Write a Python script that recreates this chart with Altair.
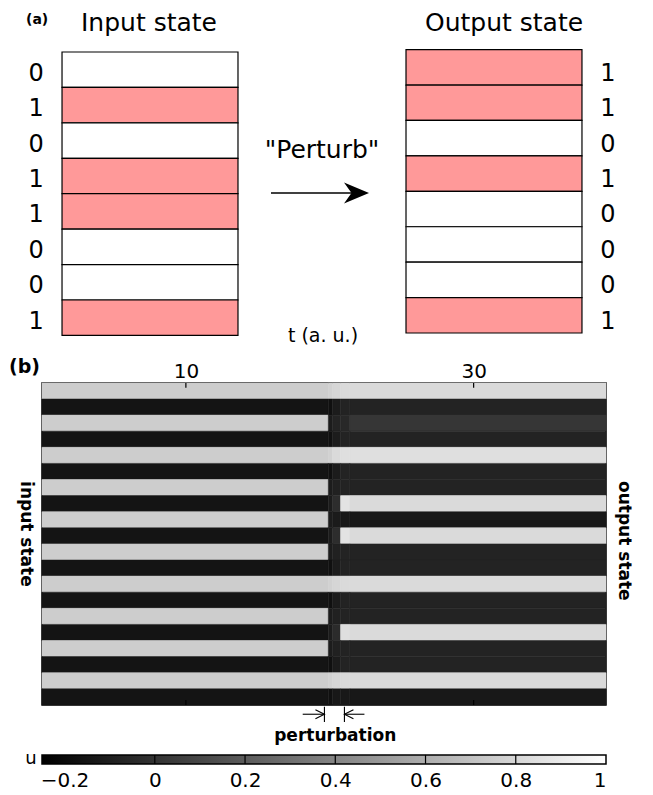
import altair as alt
import pandas as pd

FONT = "DejaVu Sans"

# ------------------------------------------------------------------ data
input_bits = [0, 1, 0, 1, 1, 0, 0, 1]
output_bits = [1, 1, 0, 1, 0, 0, 0, 1]

# time edges (t, a.u.) of the piecewise-constant segments of every heatmap row
t_edges = [0, 19.9, 20.2, 20.75, 21.4, 39.2]
# u in each segment, one list per row (top row first)
u_rows = [
    [0.78, 0.80, 0.82, 0.84, 0.84],
    [-0.17, -0.19, -0.12, -0.08, -0.08],
    [0.78, -0.12, -0.07, -0.05, 0.03],
    [-0.17, -0.19, -0.12, -0.08, -0.08],
    [0.78, 0.80, 0.84, 0.86, 0.86],
    [-0.17, -0.19, -0.12, -0.08, -0.08],
    [0.78, -0.12, -0.09, -0.08, -0.08],
    [-0.17, -0.12, -0.02, 0.88, 0.84],
    [0.78, -0.12, -0.13, -0.15, -0.15],
    [-0.17, -0.12, -0.02, 0.88, 0.84],
    [0.78, -0.12, -0.09, -0.08, -0.08],
    [-0.17, -0.19, -0.12, -0.08, -0.08],
    [0.78, 0.80, 0.82, 0.84, 0.84],
    [-0.17, -0.19, -0.12, -0.08, -0.08],
    [0.78, -0.12, -0.09, -0.08, -0.08],
    [-0.17, -0.12, -0.03, 0.86, 0.84],
    [0.78, -0.12, -0.09, -0.08, -0.08],
    [-0.17, -0.19, -0.12, -0.08, -0.08],
    [0.78, 0.80, 0.82, 0.84, 0.84],
    [-0.17, -0.19, -0.15, -0.15, -0.15],
]
time_ticks = [10, 30]
perturb_window = [19.63, 21.02]
u_domain = [-0.25, 1.0]
cbar_labels = [-0.2, 0, 0.2, 0.4, 0.6, 0.8, 1]
cbar_steps = [0, 0.2, 0.4, 0.6, 0.8]

# ------------------------------------------------------------------ layout
PW = 564
A_ROW = 35.425
B_ROW = 16.1
A_H = A_ROW * len(input_bits)
B_H = B_ROW * len(u_rows)
T_MAX = 39.2

xa = alt.Scale(domain=[0, 1])
ya = alt.Scale(domain=[0, len(input_bits)], reverse=True)
xb = alt.Scale(domain=[0, T_MAX])
yb = alt.Scale(domain=[0, len(u_rows)], reverse=True)
xc = alt.Scale(domain=u_domain)
ucol = alt.Scale(domain=u_domain, range=["#000000", "#ffffff"])


def txt(rows, sx, sy, **mk):
    df = pd.DataFrame(rows, columns=["x", "y", "text"])
    return alt.Chart(df).mark_text(font=FONT, color="black", **mk).encode(
        x=alt.X("x:Q", scale=sx, axis=None),
        y=alt.Y("y:Q", scale=sy, axis=None),
        text="text:N",
    )


# ---------------------------------------------------------------- panel (a)
def box_layer(bits, x0, x1, dy):
    df = pd.DataFrame({"row": list(range(len(bits))), "bit": bits})
    df["row1"] = df["row"] + 1
    df["x0"] = x0
    df["x1"] = x1
    return alt.Chart(df).mark_rect(
        stroke="black", strokeWidth=1.2, yOffset=dy, y2Offset=dy
    ).encode(
        x=alt.X("x0:Q", scale=xa, axis=None),
        x2=alt.X2("x1"),
        y=alt.Y("row:Q", scale=ya, axis=None),
        y2=alt.Y2("row1"),
        fill=alt.Fill("bit:N", scale=alt.Scale(domain=[0, 1], range=["#ffffff", "#ff9999"]), legend=None),
    )


def digit_layer(bits, x, dy):
    df = pd.DataFrame({"row": [i + 0.5 for i in range(len(bits))], "bit": [str(b) for b in bits]})
    df["x"] = x
    return alt.Chart(df).mark_text(
        font=FONT, fontSize=24, align="center", baseline="middle", yOffset=dy, color="black"
    ).encode(
        x=alt.X("x:Q", scale=xa, axis=None),
        y=alt.Y("row:Q", scale=ya, axis=None),
        text="bit:N",
    )


arrow_df = pd.DataFrame({"x0": [0.406], "x1": [0.557], "y": [3.98]})
shaft = alt.Chart(arrow_df).mark_rule(color="black", strokeWidth=1.4).encode(
    x=alt.X("x0:Q", scale=xa, axis=None), x2=alt.X2("x1"), y=alt.Y("y:Q", scale=ya, axis=None)
)
head_df = pd.DataFrame({"x": [0.5798], "y": [3.98]})
head = alt.Chart(head_df).mark_point(
    shape="M0,0L-1,-0.42L-0.7,0L-1,0.42Z", size=2500, filled=True, color="black", opacity=1, strokeWidth=0
).encode(x=alt.X("x:Q", scale=xa, axis=None), y=alt.Y("y:Q", scale=ya, axis=None))

# invisible spacer that pins the top edge of the figure
spacer = alt.Chart(pd.DataFrame({"x": [0.5], "y0": [-1.2195], "y1": [-1.1]})).mark_rule(
    color="white", opacity=0, strokeWidth=1
).encode(x=alt.X("x:Q", scale=xa, axis=None), y=alt.Y("y0:Q", scale=ya, axis=None), y2=alt.Y2("y1"))

panel_a = alt.layer(
    spacer,
    box_layer(input_bits, 0.0355, 0.3475, 0),
    box_layer(output_bits, 0.6454, 0.9574, -2.4),
    digit_layer(input_bits, -0.0106, 4),
    digit_layer(output_bits, 1.0035, 4),
    txt([(0.1897, -0.58, "Input state"), (0.8192, -0.58, "Output state")], xa, ya,
        fontSize=25, align="center", baseline="alphabetic"),
    txt([(-0.0284, -0.79, "(a)")], xa, ya, fontSize=14, fontWeight="bold", align="left", baseline="alphabetic"),
    txt([(0.4965, 3.0, '"Perturb"')], xa, ya, fontSize=25, align="center", baseline="alphabetic"),
    txt([(0.4982, 8.195, "t (a. u.)")], xa, ya, fontSize=19, align="center", baseline="alphabetic"),
    shaft,
    head,
).properties(width=PW, height=A_H)

# ---------------------------------------------------------------- panel (b)
recs = []
for r, vals in enumerate(u_rows):
    for k, v in enumerate(vals):
        recs.append({"row": r, "row1": r + 1, "t0": t_edges[k], "t1": t_edges[k + 1], "u": v})
cells = pd.DataFrame(recs)

heat = alt.Chart(cells).mark_rect(strokeWidth=0.5).encode(
    x=alt.X("t0:Q", scale=xb, axis=alt.Axis(
        orient="top", values=time_ticks, ticks=False, tickSize=0, domain=False, grid=False,
        labelFontSize=20, labelPadding=1, labelFont=FONT, labelColor="black", title=None, format="d")),
    x2=alt.X2("t1"),
    y=alt.Y("row:Q", scale=yb, axis=None),
    y2=alt.Y2("row1"),
    color=alt.Color("u:Q", scale=ucol, legend=None),
    stroke=alt.Stroke("u:Q", scale=ucol, legend=None),
)

tick_recs = []
for t in time_ticks:
    tick_recs.append({"t": t, "y0": 0, "y1": 0.3})
    tick_recs.append({"t": t, "y0": len(u_rows) - 0.3, "y1": len(u_rows)})
ticks = alt.Chart(pd.DataFrame(tick_recs)).mark_rule(color="black", strokeWidth=1.2).encode(
    x=alt.X("t:Q", scale=xb, axis=None), y=alt.Y("y0:Q", scale=yb, axis=None), y2=alt.Y2("y1")
)

pw_df = pd.DataFrame({"t": perturb_window, "y0": [20.12, 20.12], "y1": [21.06, 21.06]})
pw_rules = alt.Chart(pw_df).mark_rule(color="black", strokeWidth=1.1).encode(
    x=alt.X("t:Q", scale=xb, axis=None), y=alt.Y("y0:Q", scale=yb, axis=None), y2=alt.Y2("y1")
)
sh_df = pd.DataFrame({"t0": [18.12, 22.41], "t1": perturb_window, "y": [20.58, 20.58]})
pw_shafts = alt.Chart(sh_df).mark_rule(color="black", strokeWidth=1.1).encode(
    x=alt.X("t0:Q", scale=xb, axis=None), x2=alt.X2("t1"), y=alt.Y("y:Q", scale=yb, axis=None)
)
hd_df = pd.DataFrame({"t": perturb_window, "y": [20.58, 20.58], "ang": [0, 180]})
pw_heads = alt.Chart(hd_df).mark_point(
    shape="M-1,-0.5L0,0L-1,0.5", size=324, filled=False, color="black", strokeWidth=1.1, opacity=1
).encode(
    x=alt.X("t:Q", scale=xb, axis=None), y=alt.Y("y:Q", scale=yb, axis=None),
    angle=alt.Angle("ang:Q", scale=None),
)

# colour bar (same u scale as the heatmap)
CB_Y0, CB_Y1 = 23.106, 23.665
cb_df = pd.DataFrame({"u0": [u_domain[0]], "u1": [u_domain[1]], "y0": [CB_Y0], "y1": [CB_Y1]})
grad = alt.Gradient(
    gradient="linear",
    stops=[alt.GradientStop(color="#000000", offset=0), alt.GradientStop(color="#ffffff", offset=1)],
    x1=0, x2=1, y1=0, y2=0,
)
cbar = alt.Chart(cb_df).mark_rect(fill=grad, stroke="black", strokeWidth=1.5).encode(
    x=alt.X("u0:Q", scale=xc, axis=alt.Axis(
        orient="bottom", values=cbar_labels, format="~g", ticks=False, tickSize=0, domain=False, grid=False,
        labelFontSize=20, labelPadding=4, offset=62, labelFont=FONT, labelColor="black", title=None)),
    x2=alt.X2("u1"),
    y=alt.Y("y0:Q", scale=yb, axis=None),
    y2=alt.Y2("y1"),
)
sep_df = pd.DataFrame({"u": cbar_steps, "y0": [CB_Y0] * len(cbar_steps), "y1": [CB_Y1] * len(cbar_steps)})
seps = alt.Chart(sep_df).mark_rule(color="black", strokeWidth=1.2).encode(
    x=alt.X("u:Q", scale=xc, axis=None), y=alt.Y("y0:Q", scale=yb, axis=None), y2=alt.Y2("y1")
)

panel_b = alt.layer(
    heat,
    ticks,
    txt([(-2.2936, -0.621, "(b)")], xb, yb, fontSize=19, fontWeight="bold", align="left", baseline="alphabetic"),
    txt([(-1.112, 9.38, "input state"), (40.45, 9.81, "output state")], xb, yb,
        fontSize=17, fontWeight="bold", align="center", baseline="middle", angle=90),
    pw_rules,
    pw_shafts,
    pw_heads,
    txt([(20.38, 22.236, "perturbation")], xb, yb, fontSize=17, fontWeight="bold", align="center", baseline="alphabetic"),
    cbar,
    seps,
    txt([(-0.2744, 23.385, "u")], xc, yb, fontSize=18, align="center", baseline="middle"),
).resolve_scale(x="independent").properties(
    width=PW, height=B_H, view=alt.ViewBackground(stroke="black", strokeWidth=1.5)
)

chart = alt.vconcat(panel_a, panel_b, spacing=46.9, bounds="flush").properties(padding=0).configure(
    font=FONT
).configure_view(strokeWidth=0)

chart.save("out.html", embed_options={"renderer": "svg", "actions": False})
